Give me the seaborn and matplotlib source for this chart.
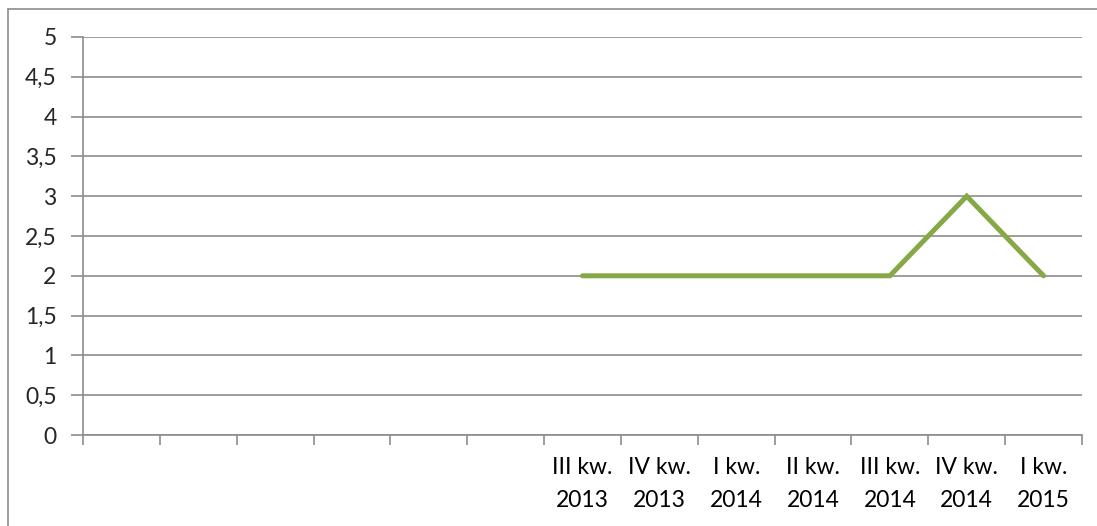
import numpy as np
import pandas as pd
import seaborn as sns
import matplotlib.pyplot as plt
from matplotlib.lines import Line2D

# quarters on the x axis (first six have no label in the source chart)
quarters = ["", "", "", "", "", "",
            "III kw.\n2013", "IV kw.\n2013", "I kw.\n2014", "II kw.\n2014",
            "III kw.\n2014", "IV kw.\n2014", "I kw.\n2015"]
values = [np.nan, np.nan, np.nan, np.nan, np.nan, np.nan,
          2, 2, 2, 2, 2, 3, 2]
y_ticks = [0, 0.5, 1, 1.5, 2, 2.5, 3, 3.5, 4, 4.5, 5]

df = pd.DataFrame({"pos": np.arange(len(quarters)), "value": values})

sns.set_style("white")
plt.rcParams["font.family"] = ["Lato", "DejaVu Sans"]

fig = plt.figure(figsize=(10.97, 5.26), dpi=100)
ax = fig.add_axes([83 / 1097, 1 - 435 / 526, (1082 - 83) / 1097, (435 - 37) / 526])

grid_col = "#8c8c8c"
sns.lineplot(data=df.dropna(), x="pos", y="value", ax=ax, color="#87A846",
             linewidth=3.6, solid_joinstyle="miter")

ax.set_xlim(-0.5, len(quarters) - 0.5)
ax.set_ylim(0, 5)
ax.set_yticks(y_ticks)
ax.set_yticklabels([("%g" % t).replace(".", ",") for t in y_ticks])
ax.yaxis.grid(True, color=grid_col, linewidth=1.2)
ax.set_axisbelow(True)

# boundaries as major ticks, labels centred on minor ticks
ax.set_xticks(np.arange(-0.5, len(quarters), 1))
ax.set_xticklabels([])
ax.set_xticks(np.arange(len(quarters)), minor=True)
ax.set_xticklabels(quarters, minor=True)
ax.tick_params(axis="x", which="major", bottom=True, length=7, width=1.2,
               color=grid_col, direction="out")
ax.tick_params(axis="x", which="minor", bottom=True, length=0, pad=16,
               labelsize=16.5, labelcolor="black")
ax.tick_params(axis="y", left=True, length=9, width=1.2, color=grid_col,
               direction="out", pad=10, labelsize=16.5)
for lbl in ax.get_xticklabels(minor=True):
    lbl.set_linespacing(1.7)

for s in ["top", "right"]:
    ax.spines[s].set_visible(False)
for s in ["left", "bottom"]:
    ax.spines[s].set_color(grid_col)
    ax.spines[s].set_linewidth(1.2)

ax.set_xlabel("")
ax.set_ylabel("")

# outer chart frame (left and top edges visible)
fig.add_artist(Line2D([7.5 / 1097, 7.5 / 1097], [0, 1 - 9 / 526], transform=fig.transFigure,
                      color=grid_col, linewidth=1.2))
fig.add_artist(Line2D([7.5 / 1097, 1], [1 - 9 / 526, 1 - 9 / 526], transform=fig.transFigure,
                      color=grid_col, linewidth=1.2))

fig.savefig("out.png", dpi=100)
